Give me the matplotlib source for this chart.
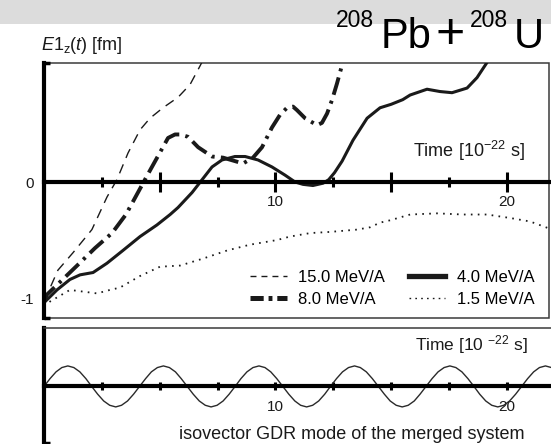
import matplotlib
matplotlib.use("Agg")
import matplotlib.pyplot as plt
from matplotlib.lines import Line2D
from matplotlib.patches import Rectangle
from matplotlib.ticker import MultipleLocator, FixedLocator, FuncFormatter

plt.rcParams['font.family'] = ['Liberation Sans', 'DejaVu Sans']
plt.rcParams['mathtext.fontset'] = 'custom'
plt.rcParams['mathtext.rm'] = 'Liberation Sans'
plt.rcParams['mathtext.it'] = 'Liberation Sans:italic'
plt.rcParams['lines.scale_dashes'] = False

INK = '#1a1a1a'

# E1_z(t) for the four beam energies (time in 1e-22 s, value in fm)
t_15 = [0.0, 0.6, 1.25, 2.07, 2.72, 3.15, 3.63, 4.15, 4.58, 5.14, 5.79, 6.31, 6.66, 6.95]
e1_15 = [-1.03, -0.76, -0.61, -0.41, -0.13, 0.02, 0.25, 0.45, 0.55, 0.64, 0.73, 0.84, 0.97, 1.08]

t_8 = [0.0, 0.13, 1.43, 2.2, 2.94, 3.54, 4.06, 4.58, 5.36, 5.66, 5.88, 6.22, 6.66,
       7.26, 7.74, 8.6, 9.03, 9.42, 9.85, 10.2, 10.5, 10.76, 10.93,
       11.28, 11.8, 12.01, 12.23, 12.45, 12.66, 12.88, 13.0]
e1_8 = [-1.03, -0.97, -0.72, -0.57, -0.44, -0.28, -0.09, 0.10, 0.38, 0.41, 0.41, 0.39, 0.30,
        0.22, 0.21, 0.16, 0.21, 0.30, 0.47, 0.58, 0.64, 0.65, 0.62,
        0.55, 0.49, 0.51, 0.59, 0.71, 0.85, 1.01, 1.10]

t_4 = [0, 0.56, 1.12, 1.56, 2.12, 2.72, 3.41, 4.15, 4.88, 5.45, 5.79, 6.4, 6.83, 7.26, 7.69,
       8.25, 8.69, 9.25, 9.85, 10.41, 10.85, 11.19, 11.62, 12.06, 12.3, 12.55, 12.88, 13.35,
       13.96, 14.52, 15.0, 15.5, 15.82, 16.55, 17.11, 17.63, 18.28, 18.71, 19.14, 19.3]
e1_4 = [-1.04, -0.93, -0.84, -0.80, -0.78, -0.70, -0.59, -0.47, -0.37, -0.28, -0.22, -0.09, 0.02, 0.13, 0.19,
        0.22, 0.22, 0.19, 0.13, 0.06, 0.0, -0.02, -0.03, -0.01, 0.02, 0.08, 0.18, 0.36,
        0.55, 0.64, 0.67, 0.71, 0.75, 0.80, 0.78, 0.77, 0.81, 0.90, 1.03, 1.08]

t_1p5 = [0, 0.26, 1.12, 2.29, 2.85, 3.28, 4.15, 5.01, 5.88, 6.87, 7.91, 8.9, 10.07, 10.63,
         11.5, 12.36, 13.53, 14.09, 14.52, 14.95, 15.82, 16.98, 18.11, 19.14, 20.14, 21.0, 21.82]
e1_1p5 = [-1.07, -1.03, -0.93, -0.96, -0.93, -0.91, -0.81, -0.73, -0.72, -0.66, -0.59, -0.54, -0.50, -0.47,
          -0.44, -0.43, -0.41, -0.39, -0.35, -0.33, -0.28, -0.27, -0.28, -0.28, -0.31, -0.34, -0.40]

labels = ['15.0 MeV/A', '8.0 MeV/A', '4.0 MeV/A', '1.5 MeV/A']

# isovector GDR oscillation of the merged system (lower panel)
gdr_t = [0.00, 0.26, 0.52, 0.77, 1.03, 1.29, 1.55, 1.81, 2.06, 2.32, 2.58, 2.84, 3.10, 3.35, 3.61, 3.87,
         4.13, 4.39, 4.64, 4.90, 5.16, 5.42, 5.68, 5.93, 6.19, 6.45, 6.71, 6.97, 7.22, 7.48, 7.74, 8.00,
         8.26, 8.51, 8.77, 9.03, 9.29, 9.55, 9.80, 10.06, 10.32, 10.58, 10.84, 11.09, 11.35, 11.61, 11.87, 12.13,
         12.38, 12.64, 12.90, 13.16, 13.42, 13.67, 13.93, 14.19, 14.45, 14.71, 14.96, 15.22, 15.48, 15.74, 16.00, 16.25,
         16.51, 16.77, 17.03, 17.29, 17.54, 17.80, 18.06, 18.32, 18.58, 18.83, 19.09, 19.35, 19.61, 19.87, 20.12, 20.38,
         20.64, 20.90, 21.16, 21.41, 21.67, 21.93, 22.19]
gdr_v = [0, .38, .71, .92, 1, .92, .71, .38, 0, -.38, -.71, -.92, -1, -.92, -.71, -.38,
         0, .38, .71, .92, 1, .92, .71, .38, 0, -.38, -.71, -.92, -1, -.92, -.71, -.38,
         0, .38, .71, .92, 1, .92, .71, .38, 0, -.38, -.71, -.92, -1, -.92, -.71, -.38,
         0, .38, .71, .92, 1, .92, .71, .38, 0, -.38, -.71, -.92, -1, -.92, -.71, -.38,
         0, .38, .71, .92, 1, .92, .71, .38, 0, -.38, -.71, -.92, -1, -.92, -.71, -.38,
         0, .38, .71, .92, 1, .92, .71]

W, H = 551, 444
fig = plt.figure(figsize=(W / 100, H / 100), dpi=100)

# grey strip along the top of the screenshot
fig.add_artist(Rectangle((0, 1 - 24 / H), 1, 24 / H, transform=fig.transFigure,
                         facecolor='#dcdcdc', edgecolor='none', zorder=0))

def tick_label(v, pos):
    return f"{v:.0f}" if round(v) in (10, 20) and abs(v - round(v)) < 1e-6 else ""

# ---- upper panel ----
ax = fig.add_axes([44 / W, 126 / H, 505 / W, 255 / H])
ax.set_xlim(0, 21.82)
ax.set_ylim(-1.172, 1.026)

ax.plot(t_15, e1_15, color=INK, lw=1.0, dashes=(7, 5))
ax.plot(t_8, e1_8, color=INK, lw=2.8, dashes=(13, 4.5, 2.2, 4.5))
ax.plot(t_4, e1_4, color=INK, lw=2.2, solid_joinstyle='round', solid_capstyle='round')
ax.plot(t_1p5, e1_1p5, color=INK, lw=1.3, dashes=(1.2, 3.8))

for s in ['top', 'right']:
    ax.spines[s].set_visible(False)
ax.spines['left'].set_linewidth(3)
ax.spines['bottom'].set_position(('data', 0))
ax.spines['bottom'].set_linewidth(3)
ax.add_patch(Rectangle((0, 0), 1, 1, transform=ax.transAxes, fill=False,
                       lw=1.1, ec='#3a3a3a', clip_on=False, zorder=1))

ax.xaxis.set_major_locator(MultipleLocator(5))
ax.xaxis.set_minor_locator(MultipleLocator(2.5))
ax.xaxis.set_major_formatter(FuncFormatter(tick_label))
ax.tick_params(axis='x', which='major', direction='inout', length=14, width=2.2,
               pad=2.5, labelsize=11, labelcolor=INK)
ax.tick_params(axis='x', which='minor', direction='inout', length=7, width=2.2)

ax.set_yticks([-1, 0])
ax.set_yticklabels(['-1', '0'])
ax.yaxis.set_minor_locator(FixedLocator([-1.172, 1.026]))
ax.tick_params(axis='y', which='major', length=0, pad=7, labelsize=11, labelcolor=INK)
ax.tick_params(axis='y', which='minor', direction='in', length=4, width=2.5)

handles = [
    Line2D([], [], color=INK, lw=1.0, dashes=(4.3, 3.6)),
    Line2D([], [], color=INK, lw=3.6, dashes=(9.5, 3.5, 2.8, 3.5)),
    Line2D([], [], color=INK, lw=3.8),
    Line2D([], [], color=INK, lw=1.0, dashes=(1.2, 3.0)),
]
ax.legend(handles, labels, ncol=2, loc='upper left',
          bbox_to_anchor=(250 / W, 1 - 270 / H), bbox_transform=fig.transFigure,
          frameon=False, fontsize=12, handlelength=2.2, handletextpad=0.7,
          columnspacing=1.4, labelspacing=0.42, borderpad=0, borderaxespad=0)

fig.text(413 / W, 1 - 151 / H, 'Time [10$^{-22}$ s]', fontsize=13, color=INK, ha='left', va='center')
fig.text(41 / W, 1 - 45 / H, r'$\mathit{E1}_{\mathrm{z}}(\mathit{t})$ [fm]', fontsize=13,
         color=INK, ha='left', va='center')

# title 208Pb+208U, pieces placed one by one
fig.text(336 / W, 1 - 27 / H, '208', fontsize=16.5, color='black', va='baseline', ha='left')
fig.text(381 / W, 1 - 48 / H, 'Pb', fontsize=30, color='black', va='baseline', ha='left')
fig.text(450 / W, 1 - 48 / H, '+', fontsize=36, color='black', va='baseline', ha='center')
fig.text(470 / W, 1 - 27 / H, '208', fontsize=16.5, color='black', va='baseline', ha='left')
fig.text(514 / W, 1 - 48 / H, 'U', fontsize=30, color='black', va='baseline', ha='left')

# ---- lower panel ----
ax2 = fig.add_axes([44 / W, 1 / H, 507 / W, 115 / H])
ax2.set_xlim(0, 21.91)
ax2.set_ylim(-2.76, 2.85)
ax2.plot(gdr_t, gdr_v, color='#2a2a2a', lw=1.0)

ax2.spines['right'].set_visible(False)
ax2.spines['top'].set_linewidth(1.1)
ax2.spines['top'].set_color('#3a3a3a')
ax2.spines['left'].set_linewidth(3)
ax2.spines['bottom'].set_position(('data', 0))
ax2.spines['bottom'].set_linewidth(3)

ax2.xaxis.set_major_locator(MultipleLocator(2.5))
ax2.xaxis.set_major_formatter(FuncFormatter(tick_label))
ax2.tick_params(axis='x', direction='inout', length=6, width=2.2, pad=7,
                labelsize=11, labelcolor=INK)
ax2.set_yticks([])
ax2.yaxis.set_minor_locator(FixedLocator([-2.76]))
ax2.tick_params(axis='y', which='minor', direction='in', length=4, width=2.5)

fig.text(415 / W, 1 - 345 / H, 'Time [10 $^{-22}$ s]', fontsize=12.5, color=INK, ha='left', va='center')
fig.text(179 / W, 1 - 434 / H, 'isovector GDR mode of the merged system', fontsize=13,
         color=INK, ha='left', va='center')

fig.savefig('out.png', dpi=100)
